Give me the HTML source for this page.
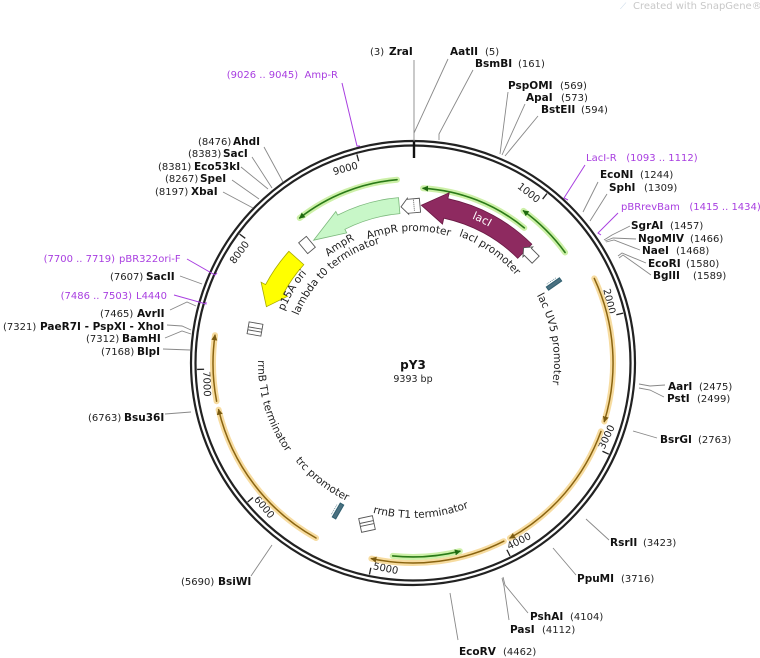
<!DOCTYPE html>
<html><head><meta charset="utf-8"><style>
html,body{margin:0;padding:0;background:#fff;}
svg{display:block;font-family:"DejaVu Sans","Liberation Sans",sans-serif;}
.n{font-size:10px;fill:#222;}
.b{font-size:10.5px;font-weight:bold;fill:#111;}
.p{font-size:10px;fill:#a83ee0;white-space:pre;}
.ll{stroke:#888;stroke-width:0.9;fill:none;}
.pl{stroke:#a83ee0;stroke-width:1;fill:none;}
.f{font-size:10.5px;fill:#222;}
.t{font-size:10px;fill:#222;}
</style></head><body>
<svg width="760" height="658" viewBox="0 0 760 658" xmlns="http://www.w3.org/2000/svg">
<defs>
<marker id="ao" markerWidth="8" markerHeight="8" refX="5" refY="3" orient="auto" markerUnits="userSpaceOnUse"><path d="M0,0 L6,3 L0,6 Z" fill="#7a5a10"/></marker>
<marker id="ag" markerWidth="8" markerHeight="8" refX="5" refY="3" orient="auto" markerUnits="userSpaceOnUse"><path d="M0,0 L6,3 L0,6 Z" fill="#1f6a10"/></marker>
<path id="c132" d="M413,495 A132,132 0 1 1 413,231 A132,132 0 1 1 413,495"/>
<path id="c135" d="M413,498 A135,135 0 1 1 413,228 A135,135 0 1 1 413,498"/>
<path id="c136" d="M413,499 A136,136 0 1 1 413,227 A136,136 0 1 1 413,499"/>
<path id="c124" d="M413,487 A124,124 0 1 1 413,239 A124,124 0 1 1 413,487"/>
<path id="c139" d="M413,502 A139,139 0 1 1 413,224 A139,139 0 1 1 413,502"/>
<path id="c156" d="M413,519 A156,156 0 1 1 413,207 A156,156 0 1 1 413,519"/>
<path id="c141" d="M413,504 A141,141 0 1 1 413,222 A141,141 0 1 1 413,504"/>
<path id="k155" d="M413,208 A155,155 0 1 0 413,518 A155,155 0 1 0 413,208"/>
<path id="k153" d="M413,210 A153,153 0 1 0 413,516 A153,153 0 1 0 413,210"/>
</defs>

<text x="633" y="9" style="font-size:10px;fill:#c8c8c8">Created with SnapGene®</text>
<text x="620" y="9" style="font-size:9px;fill:#c8d8e8">⟋</text>

<circle cx="413" cy="363" r="222" fill="none" stroke="#222" stroke-width="2.2"/>
<circle cx="413" cy="363" r="217.5" fill="none" stroke="#222" stroke-width="2.2"/>
<line x1="414" y1="142" x2="414" y2="158" stroke="#111" stroke-width="2.4"/>

<g class="t">
<g transform="rotate(38.33 413 363)"><line x1="413" y1="147" x2="413" y2="154" stroke="#222" stroke-width="1.3"/><text x="411" y="161" text-anchor="end">1000</text></g>
<g transform="rotate(76.65 413 363)"><line x1="413" y1="147" x2="413" y2="154" stroke="#222" stroke-width="1.3"/><text x="411" y="161" text-anchor="end">2000</text></g>
<g transform="rotate(-65.02 413 363)"><line x1="413" y1="579" x2="413" y2="572" stroke="#222" stroke-width="1.3"/><text x="415" y="573">3000</text></g>
<g transform="rotate(-26.69 413 363)"><line x1="413" y1="579" x2="413" y2="572" stroke="#222" stroke-width="1.3"/><text x="415" y="573">4000</text></g>
<g transform="rotate(11.64 413 363)"><line x1="413" y1="579" x2="413" y2="572" stroke="#222" stroke-width="1.3"/><text x="415" y="573">5000</text></g>
<g transform="rotate(49.96 413 363)"><line x1="413" y1="579" x2="413" y2="572" stroke="#222" stroke-width="1.3"/><text x="415" y="573">6000</text></g>
<g transform="rotate(88.29 413 363)"><line x1="413" y1="579" x2="413" y2="572" stroke="#222" stroke-width="1.3"/><text x="415" y="573">7000</text></g>
<g transform="rotate(-53.38 413 363)"><line x1="413" y1="147" x2="413" y2="154" stroke="#222" stroke-width="1.3"/><text x="411" y="161" text-anchor="end">8000</text></g>
<g transform="rotate(-15.06 413 363)"><line x1="413" y1="147" x2="413" y2="154" stroke="#222" stroke-width="1.3"/><text x="411" y="161" text-anchor="end">9000</text></g>
</g>

<g fill="none" stroke-linecap="round">
<g stroke="#f7dca0" stroke-width="6">
<path d="M594.3,278.4 A200,200 0 0 1 604.3,421.5"/>
<path d="M601,431.4 A200,200 0 0 1 510,538"/>
<path d="M503.8,541.2 A200,200 0 0 1 371.4,558.6"/>
<path d="M316,538 A200,200 0 0 1 218.6,409.7"/>
<path d="M216.6,401.2 A200,200 0 0 1 215,335.2"/>
</g>
<g stroke="#8a6410" stroke-width="1.5">
<path d="M594.3,278.4 A200,200 0 0 1 604.3,421.5" marker-end="url(#ao)"/>
<path d="M601,431.4 A200,200 0 0 1 510,538" marker-end="url(#ao)"/>
<path d="M503.8,541.2 A200,200 0 0 1 371.4,558.6" marker-end="url(#ao)"/>
<path d="M316,538 A200,200 0 0 1 218.6,409.7" marker-end="url(#ao)"/>
<path d="M216.6,401.2 A200,200 0 0 1 215,335.2" marker-end="url(#ao)"/>
</g>
<g stroke="#cdf0a8" stroke-width="6">
<path d="M524.3,227.9 A175,175 0 0 0 423.1,188.3"/>
<path d="M565.1,252.5 A188,188 0 0 0 523.5,210.9"/>
<path d="M397,179.7 A184,184 0 0 0 299.7,218"/>
<path d="M392.7,555.9 A194,194 0 0 0 459.9,551.2"/>
</g>
<g stroke="#2a7a18" stroke-width="1.6">
<path d="M524.3,227.9 A175,175 0 0 0 423.1,188.3" marker-end="url(#ag)"/>
<path d="M565.1,252.5 A188,188 0 0 0 523.5,210.9" marker-end="url(#ag)"/>
<path d="M397,179.7 A184,184 0 0 0 299.7,218" marker-end="url(#ag)"/>
<path d="M392.7,555.9 A194,194 0 0 0 459.9,551.2" marker-end="url(#ag)"/>
</g>
</g>

<path d="M531.8,244.2 A168,168 0 0 0 447.9,198.7 L449.2,192.8 L421.3,205.2 L442.5,224.1 L443.8,218.2 A148,148 0 0 1 517.7,258.3 Z" fill="#8e2a60" stroke="#6a1a44" stroke-width="0.8"/>
<path d="M398.5,197.6 A166,166 0 0 0 337.6,215.1 L335.8,211.5 L313.6,240.2 L346.7,232.9 L344.9,229.3 A150,150 0 0 1 399.9,213.6 Z" fill="#c8f7c8" stroke="#7cb87c" stroke-width="0.8"/>
<path d="M288.9,251.3 A167,167 0 0 0 265.6,284.6 L261.1,282.2 L266.4,306.7 L287.6,296.3 L283.2,294 A147,147 0 0 1 303.8,264.6 Z" fill="#ffff00" stroke="#a8a800" stroke-width="0.8"/>

<g fill="#fff" stroke="#555" stroke-width="0.9">
<g transform="translate(411,206) rotate(-5)"><polygon points="9,-7 -3,-7 -3,-8 -10,0 -3,8 -3,7 9,7"/><line x1="3" y1="-6" x2="3" y2="6" stroke-dasharray="1,1"/></g>
<g transform="translate(530,254) rotate(45)"><polygon points="8,-5 -3,-5 -3,-7 -9,0 -3,7 -3,5 8,5"/></g>
<g transform="translate(307,245) rotate(-40)"><rect x="-5" y="-7" width="10" height="14"/></g>
<g transform="translate(255,329) rotate(-80)"><rect x="-6" y="-7" width="12" height="14"/><line x1="-2" y1="-7" x2="-2" y2="7"/><line x1="1" y1="-7" x2="1" y2="7"/></g>
<g transform="translate(367,524) rotate(-12)"><rect x="-7" y="-7" width="14" height="14"/><line x1="-7" y1="-2" x2="7" y2="-2"/><line x1="-7" y1="1" x2="7" y2="1"/></g>
</g>
<g fill="#4a7080" stroke="#2f5f70">
<g transform="translate(554,284) rotate(-35)"><rect x="-8" y="-2" width="16" height="4"/><line x1="-6" y1="-4" x2="6" y2="-4" stroke-width="0.6" stroke-dasharray="1,1"/></g>
<g transform="translate(338,511) rotate(-60)"><rect x="-8" y="-2" width="16" height="4"/><line x1="-6" y1="-4" x2="6" y2="-4" stroke-width="0.6" stroke-dasharray="1,1"/></g>
</g>

<text class="f"><textPath href="#c132" startOffset="410.1" text-anchor="middle">AmpR promoter</textPath></text>
<text class="f"><textPath href="#c135" startOffset="505.9" text-anchor="middle">lacI promoter</textPath></text>
<text class="f"><textPath href="#c136" startOffset="351.3" text-anchor="middle">AmpR</textPath></text>
<text class="f"><textPath href="#c124" startOffset="299.7" text-anchor="middle">lambda t0 terminator</textPath></text>
<text class="f"><textPath href="#c139" startOffset="293.5" text-anchor="middle">p15A ori</textPath></text>
<text style="font-size:11px;fill:#fff"><textPath href="#c156" startOffset="559.8" text-anchor="middle">lacI</textPath></text>
<text class="f"><textPath href="#c141" startOffset="639.8" text-anchor="middle">lac UV5 promoter</textPath></text>
<text class="f"><textPath href="#k155" startOffset="289.5" text-anchor="middle">rrnB T1 terminator</textPath></text>
<text class="f"><textPath href="#k153" startOffset="379.2" text-anchor="middle">trc promoter</textPath></text>
<text class="f"><textPath href="#k155" startOffset="495.1" text-anchor="middle">rrnB T1 terminator</textPath></text>

<text x="413" y="369" text-anchor="middle" style="font-size:12px;font-weight:bold;fill:#111">pY3</text>
<text x="413" y="382" text-anchor="middle" style="font-size:9.5px;fill:#222">9393 bp</text>

<g class="ll">
<line x1="414" y1="141" x2="414" y2="60"/>
<line x1="414" y1="133" x2="448" y2="59"/>
<polyline points="439,140 439,134 473,70"/>
<line x1="500" y1="154" x2="508" y2="92"/>
<line x1="502" y1="155" x2="525" y2="104"/>
<line x1="505" y1="156" x2="538" y2="116"/>
<line x1="583" y1="212" x2="598" y2="182"/>
<line x1="590" y1="221" x2="607" y2="194"/>
<polyline points="604,240 612,235 630,226"/>
<polyline points="605,241 613,238 636,239"/>
<polyline points="606,242 614,240 640,250"/>
<polyline points="618,256 622,253 646,263"/>
<polyline points="619,258 623,255 651,275"/>
<polyline points="639,384 650,386 665,385"/>
<polyline points="639,388 650,390 664,397"/>
<line x1="633" y1="431" x2="657" y2="438"/>
<line x1="586" y1="519" x2="609" y2="540"/>
<line x1="553" y1="548" x2="576" y2="575"/>
<polyline points="503,577 505,585 528,613"/>
<polyline points="502,578 504,586 509,620"/>
<line x1="450" y1="593" x2="458" y2="640"/>
<line x1="272" y1="545" x2="251" y2="576"/>
<line x1="191" y1="412" x2="165" y2="414"/>
<line x1="190" y1="350" x2="163" y2="349"/>
<polyline points="191,334 182,331 165,338"/>
<polyline points="191,330 182,326 167,325"/>
<polyline points="196,306 187,302 170,310"/>
<line x1="202" y1="284" x2="180" y2="276"/>
<line x1="253" y1="208" x2="223" y2="192"/>
<line x1="259" y1="199" x2="232" y2="180"/>
<line x1="268" y1="189" x2="241" y2="167"/>
<line x1="272" y1="188" x2="252" y2="157"/>
<line x1="283" y1="182" x2="264" y2="147"/>
</g>
<g class="pl">
<polyline points="568,200 564,198 585,165"/>
<polyline points="601,235 598,233 618,213"/>
<polyline points="360,146 357,146 342,83"/>
<polyline points="217,273 215,275 187,259"/>
<polyline points="206,302 206,304 174,295"/>
</g>

<text x="370" y="55" class="n">(3)</text><text x="389" y="55" class="b">ZraI</text>
<text x="450" y="55" class="b">AatII</text><text x="485" y="55" class="n">(5)</text>
<text x="475" y="67" class="b">BsmBI</text><text x="518" y="67" class="n">(161)</text>
<text x="508" y="89" class="b">PspOMI</text><text x="560" y="89" class="n">(569)</text>
<text x="526" y="101" class="b">ApaI</text><text x="561" y="101" class="n">(573)</text>
<text x="541" y="113" class="b">BstEII</text><text x="581" y="113" class="n">(594)</text>
<text x="586" y="161" class="p">LacI-R   (1093 .. 1112)</text>
<text x="600" y="178" class="b">EcoNI</text><text x="640" y="178" class="n">(1244)</text>
<text x="609" y="191" class="b">SphI</text><text x="644" y="191" class="n">(1309)</text>
<text x="621" y="210" class="p">pBRrevBam   (1415 .. 1434)</text>
<text x="631" y="229" class="b">SgrAI</text><text x="670" y="229" class="n">(1457)</text>
<text x="638" y="242" class="b">NgoMIV</text><text x="690" y="242" class="n">(1466)</text>
<text x="642" y="254" class="b">NaeI</text><text x="676" y="254" class="n">(1468)</text>
<text x="648" y="267" class="b">EcoRI</text><text x="686" y="267" class="n">(1580)</text>
<text x="653" y="279" class="b">BglII</text><text x="693" y="279" class="n">(1589)</text>
<text x="668" y="390" class="b">AarI</text><text x="699" y="390" class="n">(2475)</text>
<text x="667" y="402" class="b">PstI</text><text x="697" y="402" class="n">(2499)</text>
<text x="660" y="443" class="b">BsrGI</text><text x="698" y="443" class="n">(2763)</text>
<text x="610" y="546" class="b">RsrII</text><text x="643" y="546" class="n">(3423)</text>
<text x="577" y="582" class="b">PpuMI</text><text x="621" y="582" class="n">(3716)</text>
<text x="530" y="620" class="b">PshAI</text><text x="570" y="620" class="n">(4104)</text>
<text x="510" y="633" class="b">PasI</text><text x="542" y="633" class="n">(4112)</text>
<text x="459" y="655" class="b">EcoRV</text><text x="503" y="655" class="n">(4462)</text>
<text x="181" y="585" class="n">(5690)</text><text x="218" y="585" class="b">BsiWI</text>
<text x="88" y="421" class="n">(6763)</text><text x="124" y="421" class="b">Bsu36I</text>
<text x="101" y="355" class="n">(7168)</text><text x="137" y="355" class="b">BlpI</text>
<text x="86" y="342" class="n">(7312)</text><text x="122" y="342" class="b">BamHI</text>
<text x="3" y="330" class="n">(7321)</text><text x="40" y="330" class="b">PaeR7I - PspXI - XhoI</text>
<text x="100" y="317" class="n">(7465)</text><text x="137" y="317" class="b">AvrII</text>
<text x="136" y="299" class="p" text-anchor="end" dx="-4">(7486 .. 7503)</text><text x="136" y="299" class="p">L4440</text>
<text x="110" y="280" class="n">(7607)</text><text x="146" y="280" class="b">SacII</text>
<text x="119" y="262" class="p" text-anchor="end" dx="-4">(7700 .. 7719)</text><text x="119" y="262" class="p">pBR322ori-F</text>
<text x="155" y="195" class="n">(8197)</text><text x="191" y="195" class="b">XbaI</text>
<text x="165" y="182" class="n">(8267)</text><text x="200" y="182" class="b">SpeI</text>
<text x="158" y="170" class="n">(8381)</text><text x="194" y="170" class="b">Eco53kI</text>
<text x="188" y="157" class="n">(8383)</text><text x="223" y="157" class="b">SacI</text>
<text x="198" y="145" class="n">(8476)</text><text x="233" y="145" class="b">AhdI</text>
<text x="338" y="78" class="p" text-anchor="end">(9026 .. 9045)  Amp-R</text>
</svg>
</body></html>
